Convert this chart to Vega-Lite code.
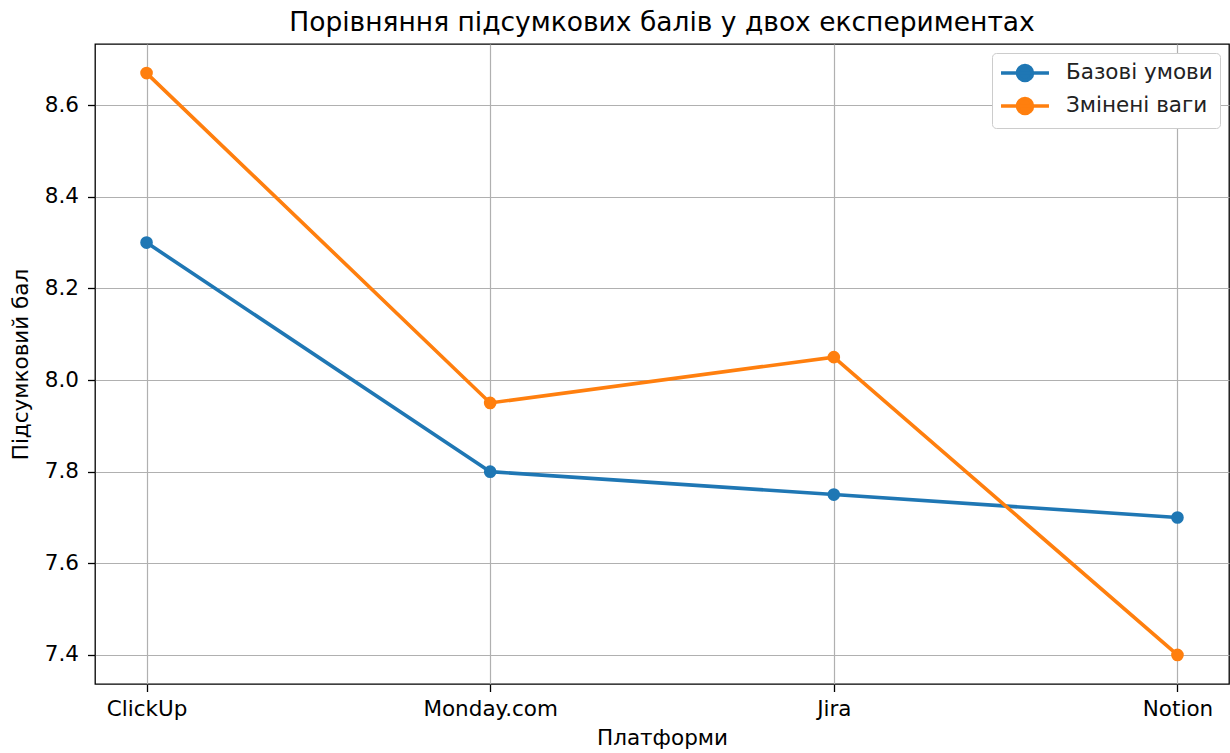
{
  "$schema": "https://vega.github.io/schema/vega-lite/v6.json",
  "width": 1134,
  "height": 640,
  "autosize": {"type": "none"},
  "padding": {"left": 95, "top": 44, "right": 1, "bottom": 69},
  "background": "white",
  "title": {
    "text": "Порівняння підсумкових балів у двох експериментах",
    "font": "DejaVu Sans",
    "fontSize": 26.5,
    "fontWeight": "normal",
    "color": "#000000",
    "anchor": "middle",
    "offset": 8
  },
  "config": {
    "font": "DejaVu Sans",
    "view": {"stroke": "#000000", "strokeWidth": 1.3},
    "axis": {
      "labelFont": "DejaVu Sans",
      "labelFontSize": 21.5,
      "labelColor": "#000000",
      "titleFont": "DejaVu Sans",
      "titleFontSize": 21.5,
      "titleFontWeight": "normal",
      "titleColor": "#000000",
      "domain": false,
      "tickColor": "#000000",
      "tickSize": 7.5,
      "tickWidth": 1.3,
      "grid": true,
      "gridColor": "#b0b0b0",
      "gridWidth": 1.2
    }
  },
  "data": {
    "values": [
      {"platform": "ClickUp", "score": 8.3, "series": "Базові умови"},
      {"platform": "Monday.com", "score": 7.8, "series": "Базові умови"},
      {"platform": "Jira", "score": 7.75, "series": "Базові умови"},
      {"platform": "Notion", "score": 7.7, "series": "Базові умови"},
      {"platform": "ClickUp", "score": 8.67, "series": "Змінені ваги"},
      {"platform": "Monday.com", "score": 7.95, "series": "Змінені ваги"},
      {"platform": "Jira", "score": 8.05, "series": "Змінені ваги"},
      {"platform": "Notion", "score": 7.4, "series": "Змінені ваги"}
    ]
  },
  "encoding": {
    "x": {
      "field": "platform",
      "type": "ordinal",
      "sort": ["ClickUp", "Monday.com", "Jira", "Notion"],
      "scale": {"type": "point", "padding": 0.15},
      "axis": {"title": "Платформи", "labelAngle": 0, "labelPadding": 7, "titlePadding": 7}
    },
    "y": {
      "field": "score",
      "type": "quantitative",
      "scale": {"domain": [7.3365, 8.7335], "nice": false, "zero": false},
      "axis": {"title": "Підсумковий бал", "values": [7.4, 7.6, 7.8, 8.0, 8.2, 8.4, 8.6], "format": ".1f", "labelPadding": 9, "titlePadding": 12}
    },
    "color": {
      "field": "series",
      "type": "nominal",
      "scale": {"domain": ["Базові умови", "Змінені ваги"], "range": ["#1f77b4", "#ff7f0e"]},
      "legend": {
        "title": null,
        "orient": "top-right",
        "offset": 9,
        "labelFont": "DejaVu Sans",
        "labelFontSize": 21.5,
        "labelColor": "#222222",
        "symbolType": "M-2.18,0H2.18M0.68,0A0.68,0.68 0 1,1 -0.68,0A0.68,0.68 0 1,1 0.68,0Z",
        "symbolSize": 484,
        "symbolStrokeWidth": 3.6,
        "symbolOffset": 13,
        "labelOffset": 28,
        "rowPadding": 3,
        "padding": 7,
        "fillColor": "white",
        "strokeColor": "#cccccc",
        "cornerRadius": 4,
        "encode": {
          "symbols": {"update": {"fill": {"scale": "color", "field": "value"}, "fillOpacity": {"value": 1}}}
        }
      }
    }
  },
  "layer": [
    {"mark": {"type": "line", "strokeWidth": 3.6}},
    {"mark": {"type": "point", "filled": true, "size": 160, "opacity": 1}}
  ]
}
